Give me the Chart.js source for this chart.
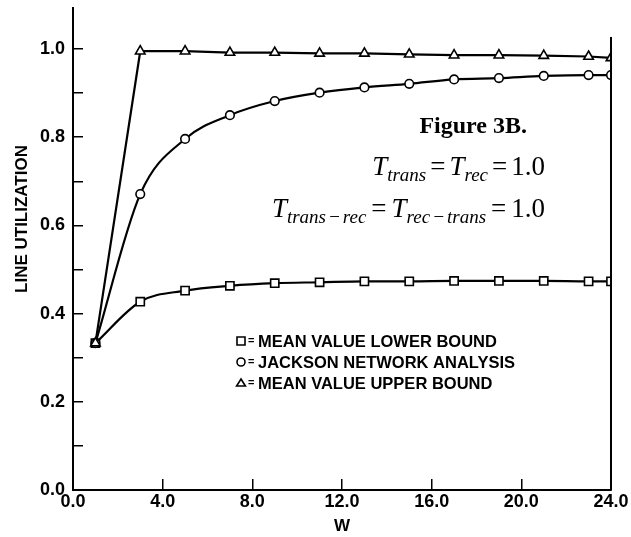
<!DOCTYPE html>
<html lang="en">
<head>
  <meta charset="UTF-8">
  <title>Figure 3B - Line Utilization</title>
  <script src="https://cdn.jsdelivr.net/npm/chart.js"></script>
  <style>
    body {
      margin: 0;
      background-color: #ffffff;
    }
    canvas {
      display: block;
    }
  </style>
</head>
<body>
  <canvas id="utilChart" width="631" height="537"></canvas>

  <script>
    // W values (window size)
    const wValues = [1, 3, 5, 7, 9, 11, 13, 15, 17, 19, 21, 23, 24];
    const lowerBound = [0.333, 0.427, 0.452, 0.463, 0.469, 0.471, 0.473, 0.473, 0.474, 0.474, 0.474, 0.473, 0.473];
    const jackson = [0.333, 0.671, 0.796, 0.850, 0.882, 0.901, 0.913, 0.921, 0.931, 0.934, 0.939, 0.941, 0.941];
    const upperBound = [0.333, 0.995, 0.995, 0.992, 0.992, 0.990, 0.990, 0.988, 0.986, 0.986, 0.985, 0.983, 0.980];

    const legendLabels = ['MEAN VALUE LOWER BOUND', 'JACKSON NETWORK ANALYSIS', 'MEAN VALUE UPPER BOUND'];
    const legendShapes = ['rect', 'circle', 'triangle'];

    const SANS = '"Liberation Sans", Arial, sans-serif';
    const SERIF = '"Liberation Serif", "Times New Roman", serif';

    function toPoints(ys) {
      return wValues.map((w, i) => ({ x: w, y: ys[i] }));
    }

    function drawShape(ctx, shape, x, y, r) {
      ctx.beginPath();
      if (shape === 'rect') {
        ctx.rect(x - r, y - r, 2 * r, 2 * r);
      } else if (shape === 'circle') {
        ctx.arc(x, y, r, 0, Math.PI * 2);
      } else {
        ctx.moveTo(x, y - r);
        ctx.lineTo(x + r * 1.1, y + r * 0.75);
        ctx.lineTo(x - r * 1.1, y + r * 0.75);
        ctx.closePath();
      }
      ctx.fillStyle = '#fff';
      ctx.fill();
      ctx.stroke();
    }

    // draws a formula made of runs, right aligned
    function drawRuns(ctx, runs, rightX, baseY) {
      let total = 0;
      runs.forEach(r => {
        ctx.font = r.font;
        r.w = ctx.measureText(r.text).width;
        total += r.w + (r.gap || 0) * 2;
      });
      let x = rightX - total;
      ctx.textAlign = 'left';
      ctx.textBaseline = 'alphabetic';
      runs.forEach(r => {
        ctx.font = r.font;
        x += r.gap || 0;
        ctx.fillText(r.text, x, baseY + (r.dy || 0));
        x += r.w + (r.gap || 0);
      });
    }

    const annotations = {
      id: 'annotations',
      afterDraw(chart) {
        const ctx = chart.ctx;
        const xs = chart.scales.x;
        const ys = chart.scales.y;
        ctx.save();
        ctx.strokeStyle = '#000';
        ctx.fillStyle = '#000';

        // right frame line
        ctx.lineWidth = 2;
        ctx.beginPath();
        ctx.moveTo(xs.getPixelForValue(24), ys.getPixelForValue(1.027));
        ctx.lineTo(xs.getPixelForValue(24), ys.getPixelForValue(0));
        ctx.stroke();

        // y axis title, placed like the original (above centre)
        ctx.save();
        ctx.translate(22, 219);
        ctx.rotate(-Math.PI / 2);
        ctx.font = 'bold 17px ' + SANS;
        ctx.textAlign = 'center';
        ctx.textBaseline = 'middle';
        ctx.fillText('LINE UTILIZATION', 0, 0);
        ctx.restore();

        // figure title
        ctx.font = 'bold 24px ' + SERIF;
        ctx.textAlign = 'right';
        ctx.textBaseline = 'alphabetic';
        ctx.fillText('Figure 3B.', 527, 133);

        const big = 'italic 27px ' + SERIF;
        const sub = 'italic 19px ' + SERIF;
        const up = '27px ' + SERIF;
        drawRuns(ctx, [
          { text: 'T', font: big },
          { text: 'trans', font: sub, dy: 6 },
          { text: '=', font: up, gap: 4 },
          { text: 'T', font: big },
          { text: 'rec', font: sub, dy: 6 },
          { text: '=', font: up, gap: 4 },
          { text: '1.0', font: up }
        ], 545, 175);
        drawRuns(ctx, [
          { text: 'T', font: big },
          { text: 'trans', font: sub, dy: 6 },
          { text: '\u2212', font: sub, dy: 6, gap: 2 },
          { text: 'rec', font: sub, dy: 6 },
          { text: '=', font: up, gap: 5 },
          { text: 'T', font: big },
          { text: 'rec', font: sub, dy: 6 },
          { text: '\u2212', font: sub, dy: 6, gap: 2 },
          { text: 'trans', font: sub, dy: 6 },
          { text: '=', font: up, gap: 5 },
          { text: '1.0', font: up }
        ], 545, 217);

        // legend inside the plot
        ctx.lineWidth = 1.6;
        ctx.textBaseline = 'middle';
        legendLabels.forEach((label, i) => {
          const y = 341 + i * 21;
          drawShape(ctx, legendShapes[i], 241, y, 4);
          ctx.fillStyle = '#000';
          ctx.font = 'bold 11px ' + SANS;
          ctx.textAlign = 'left';
          ctx.fillText('=', 248, y);
          ctx.font = 'bold 16.5px ' + SANS;
          ctx.fillText(label, 258, y + 1);
        });
        ctx.restore();
      }
    };

    function createChart() {
      const ctx = document.getElementById('utilChart').getContext('2d');

      const common = {
        borderColor: '#000',
        borderWidth: 2.2,
        pointBackgroundColor: '#fff',
        pointBorderColor: '#000',
        pointBorderWidth: 1.6,
        fill: false
      };

      new Chart(ctx, {
        type: 'line',
        data: {
          datasets: [
            {
              ...common,
              label: 'Mean value upper bound',
              data: toPoints(upperBound),
              pointStyle: 'triangle',
              pointRadius: 5.5,
              tension: 0
            },
            {
              ...common,
              label: 'Jackson network analysis',
              data: toPoints(jackson),
              pointStyle: 'circle',
              pointRadius: 4.3,
              cubicInterpolationMode: 'monotone'
            },
            {
              ...common,
              label: 'Mean value lower bound',
              data: toPoints(lowerBound),
              pointStyle: 'rect',
              pointRadius: 5.8,
              cubicInterpolationMode: 'monotone'
            }
          ]
        },
        options: {
          responsive: false,
          animation: false,
          devicePixelRatio: 1,
          layout: {
            padding: { top: 8, right: 20, left: 0, bottom: 0 }
          },
          plugins: {
            legend: { display: false },
            tooltip: { enabled: false }
          },
          scales: {
            x: {
              type: 'linear',
              min: 0,
              max: 24,
              afterFit(scale) {
                scale.height = 47;
                scale.paddingLeft = 0;
                scale.paddingRight = 0;
              },
              border: { color: '#000', width: 2 },
              grid: {
                drawOnChartArea: false,
                color: '#000',
                lineWidth: 1.5,
                tickLength: -11
              },
              ticks: {
                stepSize: 4,
                padding: 12,
                color: '#000',
                font: { family: SANS, size: 18, weight: 'bold' },
                callback: v => v.toFixed(1)
              },
              title: {
                display: true,
                text: 'W',
                color: '#000',
                padding: 0,
                font: { family: SANS, size: 17, weight: 'bold' }
              }
            },
            y: {
              min: 0,
              max: 1.093,
              afterFit(scale) {
                scale.width = 73;
                scale.paddingTop = 0;
                scale.paddingBottom = 0;
              },
              afterBuildTicks(scale) {
                scale.ticks = scale.ticks.filter(t => t.value <= 1.0001);
              },
              border: { color: '#000', width: 2 },
              grid: {
                drawOnChartArea: false,
                color: '#000',
                lineWidth: 1.5,
                tickLength: -10
              },
              ticks: {
                stepSize: 0.1,
                padding: 18,
                color: '#000',
                font: { family: SANS, size: 18, weight: 'bold' },
                callback: v => {
                  const tenth = Math.round(v * 10);
                  return tenth % 2 === 0 ? (tenth / 10).toFixed(1) : '';
                }
              }
            }
          }
        },
        plugins: [annotations]
      });
    }

    createChart();
  </script>
</body>
</html>
